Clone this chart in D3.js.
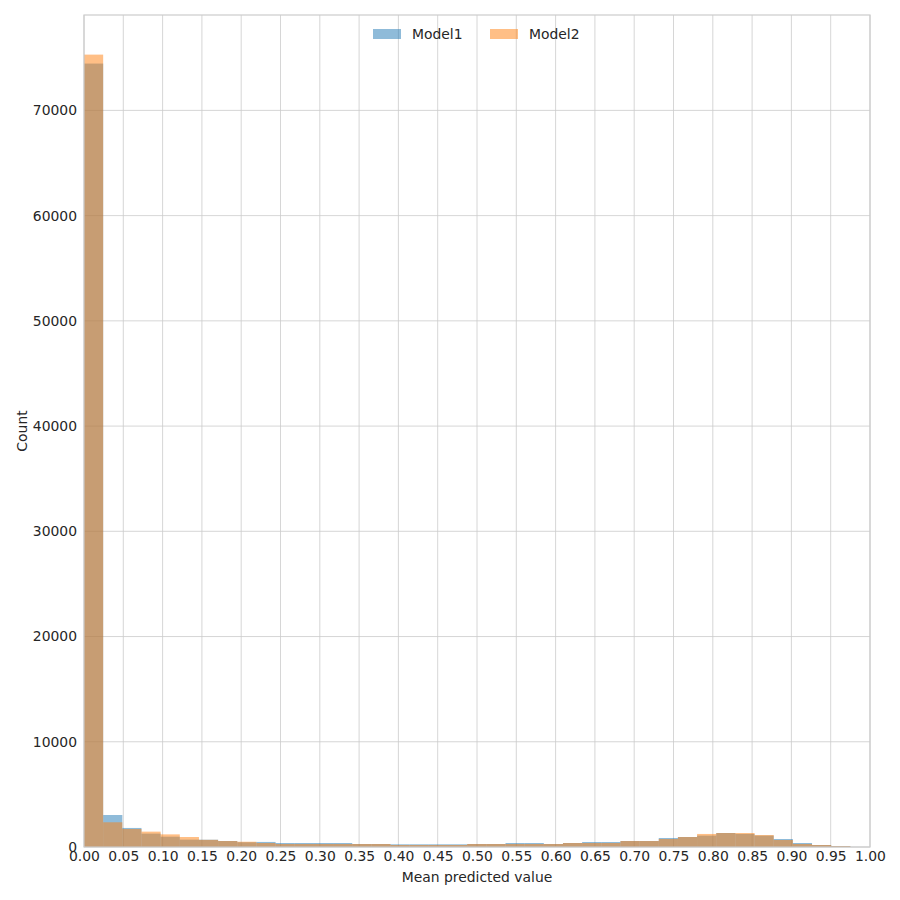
<!DOCTYPE html>
<html>
<head>
<meta charset="utf-8">
<script src="https://cdn.jsdelivr.net/npm/d3@7"></script>
<style>
  html, body { margin: 0; padding: 0; background: #fff; }
  svg { display: block; }
  text { font-family: "DejaVu Sans", sans-serif; fill: #262626; }
</style>
</head>
<body>
<svg id="chart" width="900" height="900"></svg>
<script>
// Histogram bins: 40 equal bins spanning [binStart, binEnd]
const binStart = 0.0;
const binEnd = 0.975;
const binCount = 40;

const seriesNames = ["Model1", "Model2"];
const model1Counts = [74450, 3040, 1810, 1270, 980, 700, 690, 570, 450, 480,
                      380, 380, 380, 380, 285, 285, 255, 255, 255, 255,
                      285, 285, 380, 380, 285, 380, 475, 475, 570, 570,
                      856, 950, 1080, 1330, 1240, 1080, 760, 380, 190, 95];
const model2Counts = [75300, 2350, 1710, 1460, 1200, 950, 680, 570, 500, 380,
                      285, 285, 285, 285, 285, 285, 190, 190, 190, 190,
                      285, 285, 285, 285, 285, 380, 380, 380, 570, 570,
                      760, 950, 1240, 1330, 1330, 1140, 665, 285, 190, 95];

const xTicks = d3.range(0, 21).map(i => i * 0.05);
const yTicks = [0, 10000, 20000, 30000, 40000, 50000, 60000, 70000];
const yMax = 79065;

const colors = ["#1f77b4", "#ff7f0e"];
const fs = "13.9px";

const svg = d3.select("#chart");
const margin = { left: 84, right: 30, top: 15, bottom: 53 };
const W = 900, H = 900;

const x = d3.scaleLinear().domain([0, 1]).range([margin.left, W - margin.right]);
const y = d3.scaleLinear().domain([0, yMax]).range([H - margin.bottom, margin.top]);

const g = svg.append("g");

// grid
g.append("g").selectAll("line").data(xTicks).join("line")
  .attr("x1", d => x(d)).attr("x2", d => x(d))
  .attr("y1", y(0)).attr("y2", y(yMax))
  .attr("stroke", "#cccccc").attr("stroke-width", 0.8);
g.append("g").selectAll("line").data(yTicks).join("line")
  .attr("x1", x(0)).attr("x2", x(1))
  .attr("y1", d => y(d)).attr("y2", d => y(d))
  .attr("stroke", "#cccccc").attr("stroke-width", 0.8);

// bars
const binW = (binEnd - binStart) / binCount;
[model1Counts, model2Counts].forEach((counts, si) => {
  g.append("g").selectAll("rect").data(counts).join("rect")
    .attr("x", (d, i) => x(binStart + i * binW))
    .attr("width", (d, i) => x(binStart + (i + 1) * binW) - x(binStart + i * binW))
    .attr("y", d => y(d))
    .attr("height", d => y(0) - y(d))
    .attr("fill", colors[si])
    .attr("fill-opacity", 0.5);
});

// frame
g.append("rect")
  .attr("x", x(0)).attr("y", y(yMax))
  .attr("width", x(1) - x(0)).attr("height", y(0) - y(yMax))
  .attr("fill", "none").attr("stroke", "#cccccc").attr("stroke-width", 1.2);

// axes
const xAxis = d3.axisBottom(x).tickValues(xTicks).tickFormat(d3.format(".2f")).tickSize(0).tickPadding(4);
const xg = svg.append("g").attr("transform", `translate(0,${y(0)})`).call(xAxis);
xg.select(".domain").remove();
xg.selectAll("text").style("font-size", fs).style("fill", "#262626");

const yAxis = d3.axisLeft(y).tickValues(yTicks).tickFormat(d3.format("d")).tickSize(0).tickPadding(7);
const yg = svg.append("g").attr("transform", `translate(${x(0)},0)`).call(yAxis);
yg.select(".domain").remove();
yg.selectAll("text").style("font-size", fs).style("fill", "#262626");

// axis labels
svg.append("text")
  .attr("x", (x(0) + x(1)) / 2).attr("y", 882)
  .attr("text-anchor", "middle").style("font-size", fs)
  .text("Mean predicted value");
svg.append("text")
  .attr("transform", `translate(27,${(y(0) + y(yMax)) / 2}) rotate(-90)`)
  .attr("text-anchor", "middle").style("font-size", fs)
  .text("Count");

// legend
const legendX = [373, 490];
seriesNames.forEach((name, i) => {
  svg.append("rect")
    .attr("x", legendX[i]).attr("y", 29)
    .attr("width", 28).attr("height", 10)
    .attr("fill", colors[i]).attr("fill-opacity", 0.5);
  svg.append("text")
    .attr("x", legendX[i] + 39).attr("y", 39)
    .style("font-size", fs)
    .text(name);
});
</script>
</body>
</html>
